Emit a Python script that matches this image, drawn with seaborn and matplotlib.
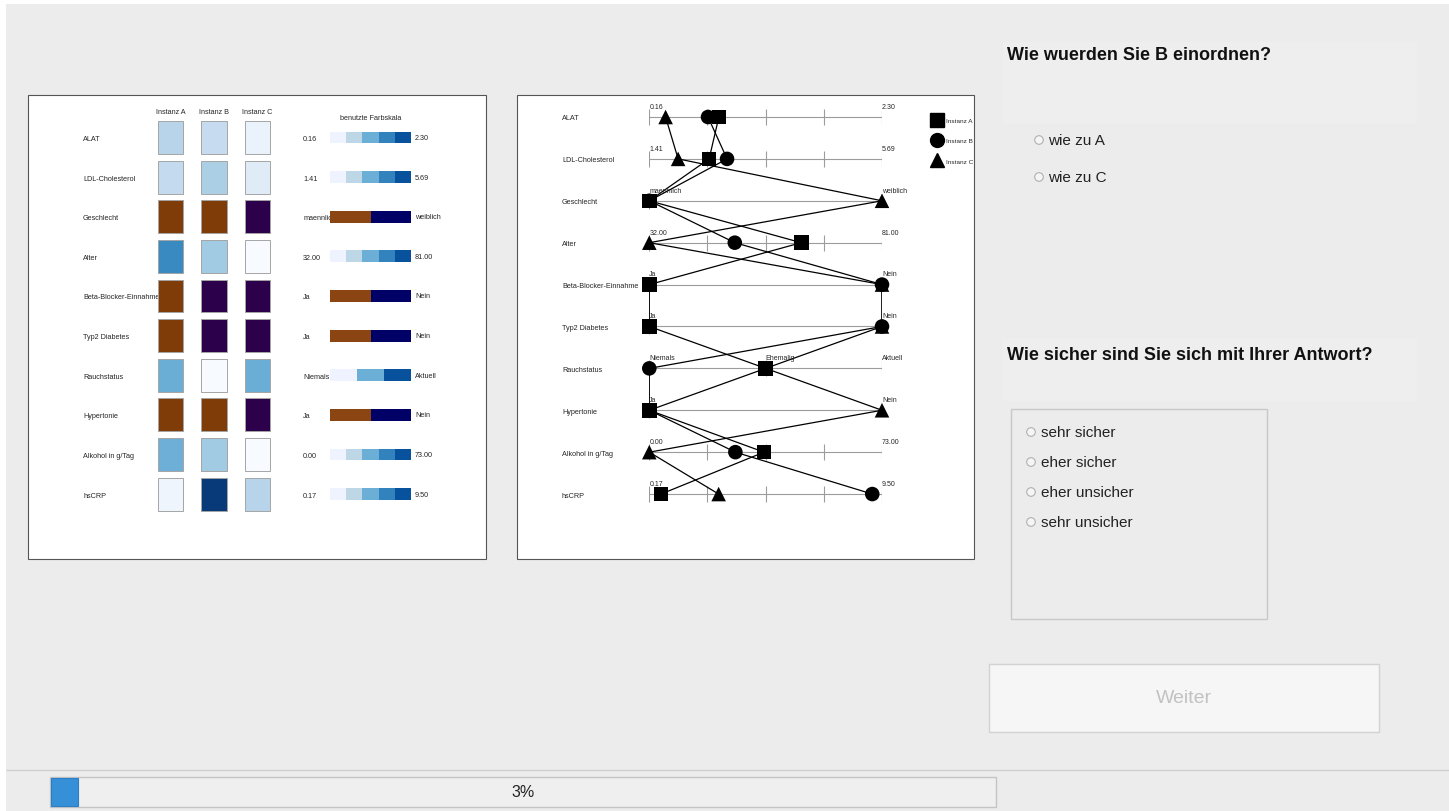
import numpy as np
import pandas as pd
import seaborn as sns
import matplotlib.pyplot as plt
from matplotlib.colors import to_hex
from matplotlib.lines import Line2D
from matplotlib.patches import Rectangle, Circle

sns.set_style("white")
plt.rcParams["font.family"] = ["Liberation Sans", "DejaVu Sans"]

# ---------- data ----------
attributes = ["ALAT", "LDL-Cholesterol", "Geschlecht", "Alter", "Beta-Blocker-Einnahme",
              "Typ2 Diabetes", "Rauchstatus", "Hypertonie", "Alkohol in g/Tag", "hsCRP"]
num_range = {"ALAT": (0.16, 2.30), "LDL-Cholesterol": (1.41, 5.69), "Alter": (32.0, 81.0),
             "Alkohol in g/Tag": (0.0, 73.0), "hsCRP": (0.17, 9.50)}
categories = {"Geschlecht": ["maennlich", "weiblich"],
              "Beta-Blocker-Einnahme": ["Ja", "Nein"],
              "Typ2 Diabetes": ["Ja", "Nein"],
              "Rauchstatus": ["Niemals", "Ehemalig", "Aktuell"],
              "Hypertonie": ["Ja", "Nein"]}

instanz_names = ["Instanz A", "Instanz B", "Instanz C"]
instanz_a = [0.80, 2.51, "maennlich", 64, "Ja", "Ja", "Ehemalig", "Ja", 36, 0.64]
instanz_b = [0.70, 2.84, "maennlich", 50, "Nein", "Nein", "Niemals", "Ja", 27, 9.11]
instanz_c = [0.31, 1.94, "weiblich", 32, "Nein", "Nein", "Ehemalig", "Nein", 0, 2.95]
instances = [instanz_a, instanz_b, instanz_c]

question_1 = "Wie wuerden Sie B einordnen?"
answers_1 = ["wie zu A", "wie zu C"]
question_2 = "Wie sicher sind Sie sich mit Ihrer Antwort?"
answers_2 = ["sehr sicher", "eher sicher", "eher unsicher", "sehr unsicher"]
progress = 3

# colours
blues = plt.get_cmap("Blues")
binary_cells = ["#7f3b08", "#2d004b"]
binary_scale = ["#8b4513", "#000066"]
blues5 = ["#eff3ff", "#bdd7e7", "#6baed6", "#3182bd", "#08519c"]
blues3 = ["#eff3ff", "#6baed6", "#08519c"]


def norm_value(attr, v):
    if attr in num_range:
        lo, hi = num_range[attr]
        return (v - lo) / (hi - lo)
    cats = categories[attr]
    return cats.index(v) / (len(cats) - 1)


def cell_color(attr, v):
    if attr in categories and len(categories[attr]) == 2:
        return binary_cells[categories[attr].index(v)]
    return to_hex(blues(norm_value(attr, v)))


def scale_colors(attr):
    if attr in num_range:
        return blues5
    if len(categories[attr]) == 2:
        return binary_scale
    return blues3


def end_labels(attr):
    if attr in num_range:
        lo, hi = num_range[attr]
        return f"{lo:.2f}", f"{hi:.2f}"
    return categories[attr][0], categories[attr][-1]


# ---------- figure ----------
W, H = 1449, 812


def box(x0, y0, x1, y1):
    return [x0 / W, 1 - y1 / H, (x1 - x0) / W, (y1 - y0) / H]


fig = plt.figure(figsize=(W / 100, H / 100), dpi=100, facecolor="white")
bg = fig.add_axes([0, 0, 1, 1])
bg.set_xlim(0, W)
bg.set_ylim(H, 0)
bg.axis("off")

bg.add_patch(Rectangle((6, 5), W - 6, H - 5, fc="#ececec", ec="none"))
bg.add_patch(Rectangle((1003, 43), 414, 82, fc="#eeeeee", ec="none"))
bg.add_patch(Rectangle((1003, 340), 414, 62, fc="#eeeeee", ec="none"))
left_frame = Rectangle((28, 96), 458, 464, fc="white", ec="#555555", lw=0.8)
right_frame = Rectangle((517, 96), 457, 464, fc="white", ec="#555555", lw=0.8)
bg.add_patch(left_frame)
bg.add_patch(right_frame)

small = 5.2

# ---------- left panel: coloured cells ----------
hm = fig.add_axes(box(148.75, 118.7, 279.25, 514.9))
hm.patch.set_alpha(0)
rows = np.arange(len(attributes))
for j, vals in enumerate(instances):
    colors = [cell_color(a, v) for a, v in zip(attributes, vals)]
    hm.bar(np.full(len(rows), j), 0.83, bottom=rows - 0.415, width=0.575,
           color=colors, edgecolor="#a5a5a5", linewidth=0.7)
hm.set_xlim(-0.5, 2.5)
hm.set_ylim(9.5, -0.5)
hm.xaxis.tick_top()
hm.set_xticks(range(3))
hm.set_xticklabels(instanz_names, fontsize=small)
hm.set_yticks(rows)
hm.set_yticklabels(attributes, fontsize=small, ha="left")
hm.tick_params(axis="y", length=0, pad=47.3)
hm.tick_params(axis="x", length=0, pad=2)
sns.despine(ax=hm, left=True, bottom=True)

# colour scales
sc = fig.add_axes(box(330, 118.7, 411, 514.9))
sc.patch.set_alpha(0)
for i, a in enumerate(attributes):
    cols = scale_colors(a)
    n = len(cols)
    sc.barh(np.full(n, i), 1 / n, left=np.arange(n) / n, height=0.3,
            color=cols, linewidth=0, align="center", zorder=3)
    sc.text(1.05, i, end_labels(a)[1], fontsize=small, va="center", ha="left")
sc.text(0.5, -0.5, "benutzte Farbskala", fontsize=small, ha="center", va="center")
sc.set_xlim(0, 1)
sc.set_ylim(9.5, -0.5)
sc.set_xticks([])
sc.set_yticks(rows)
sc.set_yticklabels([end_labels(a)[0] for a in attributes], fontsize=small, ha="left")
sc.tick_params(axis="y", length=0, pad=19.4)
sns.despine(ax=sc, left=True, bottom=True)

# ---------- right panel: parallel coordinates ----------
long = pd.DataFrame([
    {"Instanz": name, "row": i, "pos": norm_value(a, v)}
    for name, vals in zip(instanz_names, instances)
    for i, (a, v) in enumerate(zip(attributes, vals))
])

pc = fig.add_axes(box(649.3, 97.05, 882, 516))
pc.patch.set_alpha(0)
pc.hlines(rows, 0, 1, color="#9c9c9c", lw=0.8, zorder=1)
for i, a in enumerate(attributes):
    if a in num_range:
        ticks = [0, 0.25, 0.5, 0.75, 1]
        lo, hi = end_labels(a)
        labels = [(0, lo), (1, hi)]
    else:
        cats = categories[a]
        ticks = list(np.linspace(0, 1, len(cats)))
        labels = list(zip(ticks, cats))
    pc.vlines(ticks, i - 0.19, i + 0.19, color="#9c9c9c", lw=0.8, zorder=1)
    for x, lab in labels:
        pc.text(x, i - 0.17, lab, fontsize=5, ha="left", va="bottom")

sns.lineplot(data=long, x="pos", y="row", units="Instanz", estimator=None, sort=False,
             color="black", lw=0.9, legend=False, ax=pc)
markers = {"Instanz A": "s", "Instanz B": "o", "Instanz C": "^"}
sns.scatterplot(data=long, x="pos", y="row", style="Instanz", markers=markers,
                color="black", s=110, linewidth=0, clip_on=False, zorder=3,
                legend=False, ax=pc)
pc.set_xlim(0, 1)
pc.set_ylim(9.5, -0.5)
pc.set_xlabel("")
pc.set_ylabel("")
pc.set_xticks([])
pc.set_yticks(rows)
pc.set_yticklabels(attributes, fontsize=small, ha="left")
pc.tick_params(axis="y", length=0, pad=62.9)
sns.despine(ax=pc, left=True, bottom=True)

handles = [Line2D([], [], marker=markers[n], color="black", ls="none", markersize=10)
           for n in instanz_names]
leg = pc.legend(handles, instanz_names, loc="upper left", bbox_to_anchor=(1.214, 0.948),
                frameon=False, fontsize=4.6, handlelength=1.6, handletextpad=0.6,
                labelspacing=2.3, borderpad=0, borderaxespad=0)
for t in leg.get_texts():
    t.set_clip_path(right_frame)

# ---------- questionnaire ----------
bg.text(1007, 56, question_1, fontsize=13, fontweight="bold", va="center", color="#111111")
for k, ans in enumerate(answers_1):
    y = 141 + 37 * k
    bg.add_patch(Circle((1039, y), 4.3, fc="#f5f5f5", ec="#b0b0b0", lw=0.8))
    bg.text(1048, y, ans, fontsize=11, va="center", color="#222222")

bg.text(1007, 356, question_2, fontsize=13, fontweight="bold", va="center", color="#111111")
bg.add_patch(Rectangle((1011, 410), 256, 210, fc="none", ec="#c8c8c8", lw=1))
for k, ans in enumerate(answers_2):
    y = 433 + 30 * k
    bg.add_patch(Circle((1031, y), 4.3, fc="#f5f5f5", ec="#b0b0b0", lw=0.8))
    bg.text(1041, y, ans, fontsize=11, va="center", color="#222222")

bg.add_patch(Rectangle((989, 665), 390, 68, fc="#f6f6f6", ec="#d2d2d2", lw=1))
bg.text(1184, 699, "Weiter", fontsize=14, ha="center", va="center", color="#c2c2c2")

# ---------- progress bar ----------
bg.hlines(771, 6, W, color="#cfcfcf", lw=1)
bar_x0, bar_w = 50, 946
bg.add_patch(Rectangle((bar_x0, 778), bar_w, 30, fc="#efefef", ec="#c4c4c4", lw=1))
bg.add_patch(Rectangle((bar_x0 + 1, 779), bar_w * progress / 100 - 1, 28,
                       fc="#3590d8", ec="#2c7fc4", lw=0.8))
bg.text(bar_x0 + bar_w / 2, 793, f"{progress}%", fontsize=11.5, ha="center", va="center",
        color="#222222")

fig.savefig("out.png", dpi=100, facecolor=fig.get_facecolor())
